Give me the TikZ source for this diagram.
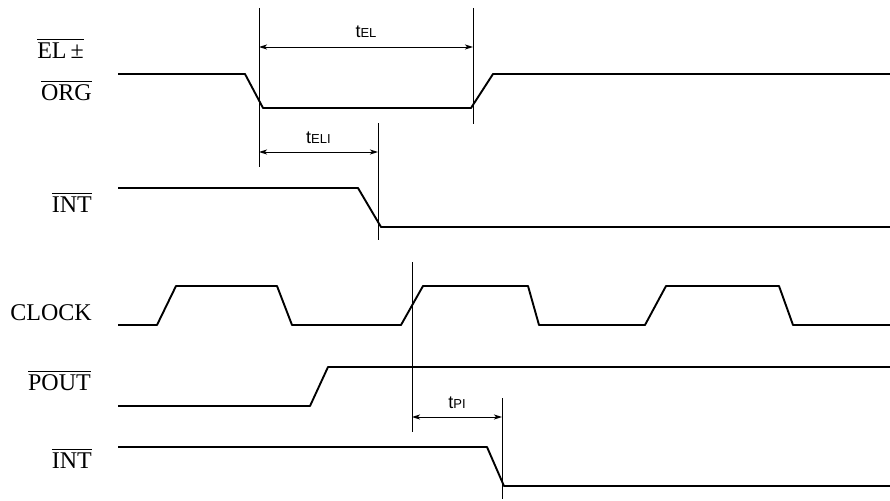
\documentclass[tikz,border=0pt]{standalone}
\usepackage{fontspec}
\setmainfont{Liberation Serif}
\setsansfont{Liberation Sans}
\usetikzlibrary{arrows.meta}
\tikzset{
  wave/.style={line width=1.9pt, line join=round},
  guide/.style={line width=0.9pt},
  dimline/.style={line width=0.9pt, {Stealth[length=8pt,width=5pt,inset=2pt]}-{Stealth[length=8pt,width=5pt,inset=2pt]}},
  siglabel/.style={anchor=east, inner sep=0pt, font=\fontsize{24}{28}\selectfont},
  tlabel/.style={inner sep=0pt, font=\sffamily\fontsize{18}{20}\selectfont}
}
\newcommand{\ovl}[1]{\vbox{\hrule height 1.2pt \kern 3pt \hbox{#1}}}
\newcommand{\tsub}[1]{t{\fontsize{13}{15}\selectfont #1}}
\begin{document}
\begin{tikzpicture}[x=1pt,y=-1pt]
\useasboundingbox (0,0) rectangle (890,500);
% signal names
\node[siglabel] (elpm) at (84,49) {\ovl{EL\,±}};
\node[siglabel] (org) at (92,91) {\ovl{ORG}};
\node[siglabel] (inta) at (92,203) {\ovl{INT}};
\node[siglabel] (clock) at (92,313) {CLOCK};
\node[siglabel] (pout) at (91,381) {\ovl{POUT}};
\node[siglabel] (intb) at (92,459) {\ovl{INT}};
% waveforms
\draw[wave] (118,74) -- (245,74) -- (263,108) -- (471,108) -- (493,74) -- (890,74);
\draw[wave] (118,188) -- (358,188) -- (381,227) -- (890,227);
\draw[wave] (118,325) -- (157,325) -- (176,286) -- (277,286) -- (292,325)
  -- (401,325) -- (423,286) -- (528,286) -- (539,325)
  -- (645,325) -- (666,286) -- (779,286) -- (793,325) -- (890,325);
\draw[wave] (118,406) -- (310,406) -- (328,367) -- (890,367);
\draw[wave] (118,447) -- (487,447) -- (504,486) -- (890,486);
% reference lines
\coordinate (elT) at (259,8);   \coordinate (elB) at (259,167);
\coordinate (eeT) at (473,8);   \coordinate (eeB) at (473,124);
\coordinate (iaT) at (378,123); \coordinate (iaB) at (378,240);
\coordinate (ckT) at (412,262); \coordinate (ckB) at (412,432);
\coordinate (ibT) at (502,398); \coordinate (ibB) at (502,499);
\draw[guide] (elT) -- (elB);
\draw[guide] (eeT) -- (eeB);
\draw[guide] (iaT) -- (iaB);
\draw[guide] (ckT) -- (ckB);
\draw[guide] (ibT) -- (ibB);
% timings
\coordinate (tel1) at (259,47);  \coordinate (tel2) at (473,47);
\coordinate (teli1) at (259,152); \coordinate (teli2) at (378,152);
\coordinate (tpi1) at (412,417); \coordinate (tpi2) at (502,417);
\draw[dimline] (tel1) -- (tel2) node[tlabel, midway, above=9pt] (tel) {\tsub{EL}};
\draw[dimline] (teli1) -- (teli2) node[tlabel, midway, above=8pt] (teli) {\tsub{ELI}};
\draw[dimline] (tpi1) -- (tpi2) node[tlabel, midway, above=8pt] (tpi) {\tsub{PI}};
\end{tikzpicture}
\end{document}
